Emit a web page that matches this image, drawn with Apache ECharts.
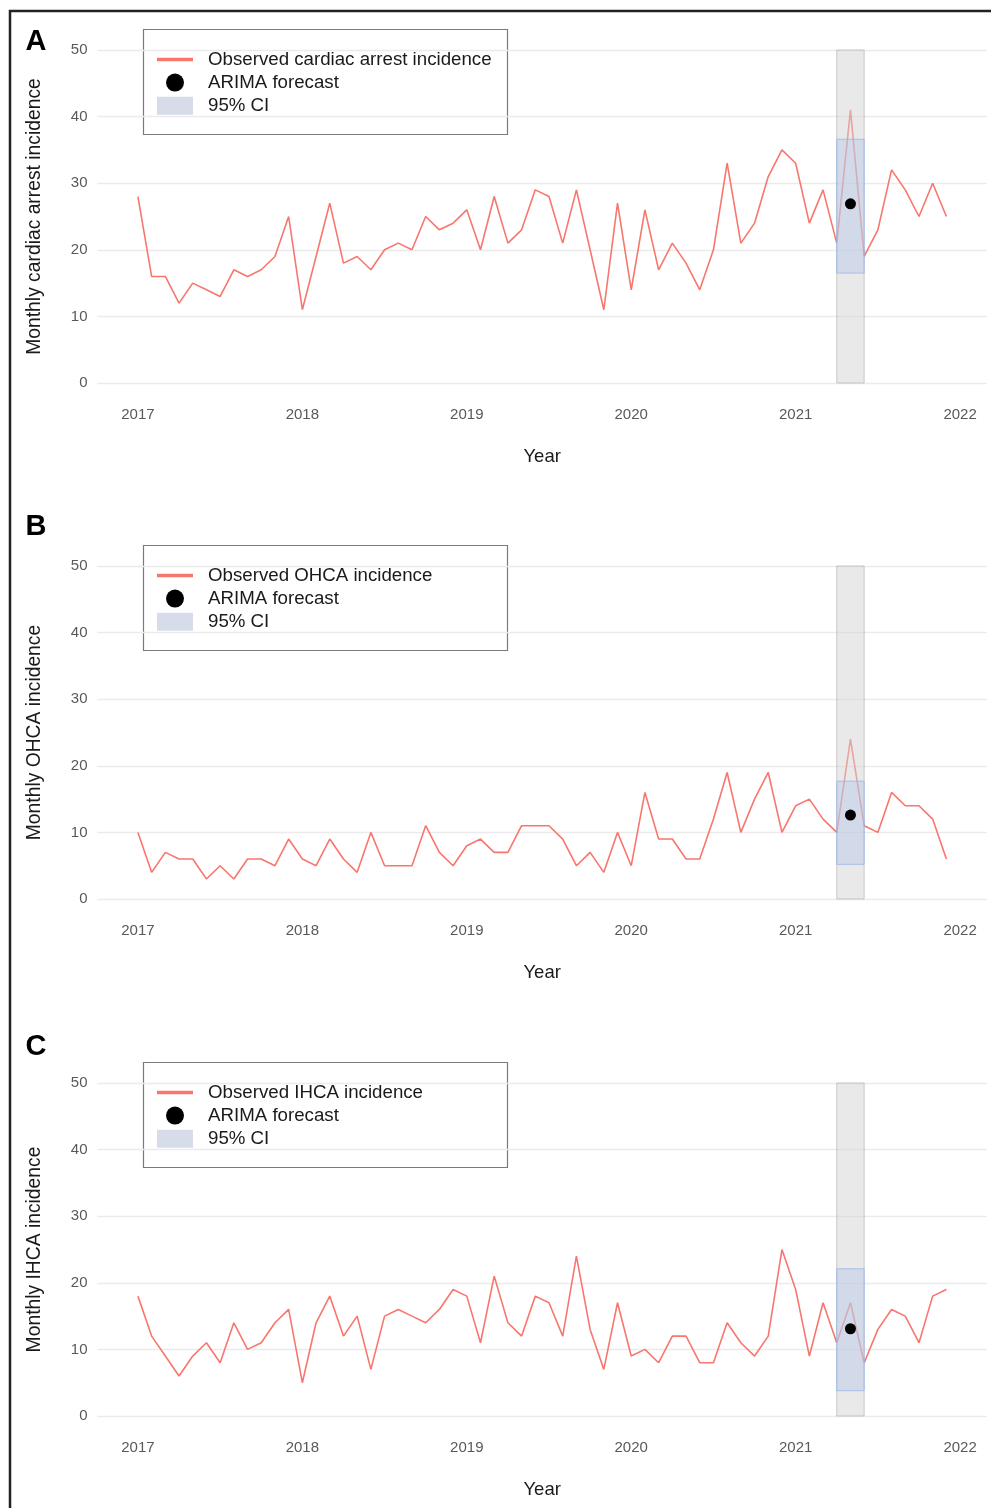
<!DOCTYPE html>
<html>
<head>
<meta charset="utf-8">
<script src="https://cdn.jsdelivr.net/npm/echarts@6/dist/echarts.min.js"></script>
<style>
  html, body { margin: 0; padding: 0; background: #fff; }
  #chart { width: 991px; height: 1508px; }
</style>
</head>
<body>
<div id="chart"></div>
<script>
// ---------------- DATA ----------------
const months = [
  '2017-01','2017-02','2017-03','2017-04','2017-05','2017-06','2017-07','2017-08','2017-09','2017-10','2017-11','2017-12',
  '2018-01','2018-02','2018-03','2018-04','2018-05','2018-06','2018-07','2018-08','2018-09','2018-10','2018-11','2018-12',
  '2019-01','2019-02','2019-03','2019-04','2019-05','2019-06','2019-07','2019-08','2019-09','2019-10','2019-11','2019-12',
  '2020-01','2020-02','2020-03','2020-04','2020-05','2020-06','2020-07','2020-08','2020-09','2020-10','2020-11','2020-12',
  '2021-01','2021-02','2021-03','2021-04','2021-05','2021-06','2021-07','2021-08','2021-09','2021-10','2021-11','2021-12'
];
const yearTicks = ['2017','2018','2019','2020','2021','2022'];
const yTicks = [0, 10, 20, 30, 40, 50];

const totalCA = [28,16,16,12,15,14,13,17,16,17,19,25, 11,19,27,18,19,17,20,21,20,25,23,24,
                 26,20,28,21,23,29,28,21,29,20,11,27, 14,26,17,21,18,14,20,33,21,24,31,35,
                 33,24,29,21,41,19,23,32,29,25,30,25];
const ohca    = [10,4,7,6,6,3,5,3,6,6,5,9, 6,5,9,6,4,10,5,5,5,11,7,5,
                 8,9,7,7,11,11,11,9,5,7,4,10, 5,16,9,9,6,6,12,19,10,15,19,10,
                 14,15,12,10,24,11,10,16,14,14,12,6];
const ihca    = [18,12,9,6,9,11,8,14,10,11,14,16, 5,14,18,12,15,7,15,16,15,14,16,19,
                 18,11,21,14,12,18,17,12,24,13,7,17, 9,10,8,12,12,8,8,14,11,9,12,25,
                 19,9,17,11,17,8,13,16,15,11,18,19];

const panelLetters = ['A', 'B', 'C'];
const observedNames = ['Observed cardiac arrest incidence', 'Observed OHCA incidence', 'Observed IHCA incidence'];
const yTitles = ['Monthly cardiac arrest incidence', 'Monthly OHCA incidence', 'Monthly IHCA incidence'];
const panelValues = [totalCA, ohca, ihca];

const forecastMonth = '2021-05';
const forecastValue = [26.9, 12.6, 13.1];
const ciLow  = [16.5, 5.2, 3.8];
const ciHigh = [36.6, 17.7, 22.1];
const bandStart = '2021-04';
const bandEnd = '2021-06';

// ---------------- LAYOUT ----------------
const FONT = 'Liberation Sans, Arial, Helvetica, sans-serif';
const gridLeft = 97.5, gridWidth = 889.3, gridHeight = 333;
const gridTops = [50, 566, 1083];
const legendTops = [29, 545, 1062];
const letterY = [42, 527, 1047];

function monthIndex(m) {
  return (parseInt(m.slice(0, 4), 10) - 2017) * 12 + parseInt(m.slice(5, 7), 10) - 1;
}
const xMin = -2.95, xMax = 61.95;
const tickIdx = yearTicks.map(y => (parseInt(y, 10) - 2017) * 12);

function rectRenderer(fill, stroke) {
  return function (params, api) {
    const p0 = api.coord([api.value(0), api.value(3)]);
    const p1 = api.coord([api.value(1), api.value(2)]);
    return {
      type: 'rect',
      shape: { x: p0[0], y: p0[1], width: p1[0] - p0[0], height: p1[1] - p0[1] },
      style: { fill: fill, stroke: stroke, lineWidth: 1 }
    };
  };
}

const grid = [], xAxis = [], yAxis = [], series = [], legend = [], graphic = [];

graphic.push({
  type: 'polyline',
  shape: { points: [[10, 1508], [10, 11], [991, 11]] },
  style: { stroke: '#222', lineWidth: 2.5, fill: null },
  z: 100
});

for (let p = 0; p < 3; p++) {
  grid.push({ left: gridLeft, top: gridTops[p], width: gridWidth, height: gridHeight });
  xAxis.push({
    type: 'value', gridIndex: p, min: xMin, max: xMax,
    name: 'Year', nameLocation: 'middle', nameGap: 64,
    nameTextStyle: { fontFamily: FONT, fontSize: 18.5, color: '#1a1a1a' },
    axisLine: { show: false }, axisTick: { show: false }, splitLine: { show: false },
    axisLabel: {
      customValues: tickIdx, margin: 24,
      fontFamily: FONT, fontSize: 15, color: '#595959',
      formatter: v => yearTicks[tickIdx.indexOf(Math.round(v))]
    }
  });
  yAxis.push({
    type: 'value', gridIndex: p, min: yTicks[0], max: yTicks[yTicks.length - 1], interval: 10,
    name: yTitles[p], nameLocation: 'middle', nameGap: 53, nameRotate: 90,
    nameTextStyle: { fontFamily: FONT, fontSize: 19.3, color: '#1a1a1a' },
    axisLine: { show: false }, axisTick: { show: false },
    splitLine: { lineStyle: { color: '#ebebeb', width: 1.4 } },
    axisLabel: { margin: 10, fontFamily: FONT, fontSize: 15, color: '#595959' }
  });

  const vals = panelValues[p];
  series.push({
    name: observedNames[p], type: 'line', xAxisIndex: p, yAxisIndex: p,
    data: months.map((m, i) => [monthIndex(m), vals[i]]),
    symbol: 'none', lineStyle: { color: '#F8766D', width: 1.6 },
    itemStyle: { color: '#F8766D' }, z: 2, silent: true
  });
  series.push({
    name: 'band' + p, type: 'custom', xAxisIndex: p, yAxisIndex: p,
    renderItem: rectRenderer('rgba(212,212,212,0.5)', 'rgba(170,170,170,0.55)'),
    encode: { x: [0, 1], y: [2, 3] },
    data: [[monthIndex(bandStart), monthIndex(bandEnd), yTicks[0], yTicks[yTicks.length - 1]]],
    z: 3, silent: true
  });
  series.push({
    name: '95% CI', type: 'custom', xAxisIndex: p, yAxisIndex: p,
    renderItem: rectRenderer('rgba(170,190,235,0.35)', 'rgba(150,180,235,0.75)'),
    encode: { x: [0, 1], y: [2, 3] },
    itemStyle: { color: '#d6dcea' },
    data: [[monthIndex(bandStart), monthIndex(bandEnd), ciLow[p], ciHigh[p]]],
    z: 4, silent: true
  });
  series.push({
    name: 'ARIMA forecast', type: 'scatter', xAxisIndex: p, yAxisIndex: p,
    data: [[monthIndex(forecastMonth), forecastValue[p]]],
    symbol: 'circle', symbolSize: 11, itemStyle: { color: '#000', opacity: 1 }, z: 5, silent: true
  });

  legend.push({
    orient: 'vertical', left: 157, top: legendTops[p] + 21, padding: 0,
    itemWidth: 36, itemHeight: 18, itemGap: 4.1, selectedMode: false,
    symbolKeepAspect: true,
    textStyle: { fontFamily: FONT, fontSize: 18.7, color: '#1a1a1a', padding: [0, 0, 0, 10] },
    data: [
      { name: observedNames[p], icon: 'path://M0,0 L36,0 L36,3.4 L0,3.4 Z', itemStyle: { color: '#F8766D', opacity: 1 } },
      { name: 'ARIMA forecast', icon: 'circle', itemStyle: { color: '#000', opacity: 1 } },
      { name: '95% CI', icon: 'rect', itemStyle: { color: '#d6dcea', opacity: 1 } }
    ]
  });

  graphic.push({
    type: 'rect',
    shape: { x: 143.5, y: legendTops[p] + 0.5, width: 364, height: 105 },
    style: { fill: '#fff', stroke: '#7a7a7a', lineWidth: 1.2 },
    z: 0, zlevel: 0
  });
  graphic.push({
    type: 'text', x: 36, y: letterY[p],
    style: { text: panelLetters[p], font: 'bold 29px ' + FONT, fill: '#000', align: 'center', verticalAlign: 'middle' },
    z: 100
  });
}

const chart = echarts.init(document.getElementById('chart'), null, { renderer: 'canvas' });
chart.setOption({
  animation: false,
  backgroundColor: '#fff',
  grid, xAxis, yAxis, series, legend, graphic
});
</script>
</body>
</html>
